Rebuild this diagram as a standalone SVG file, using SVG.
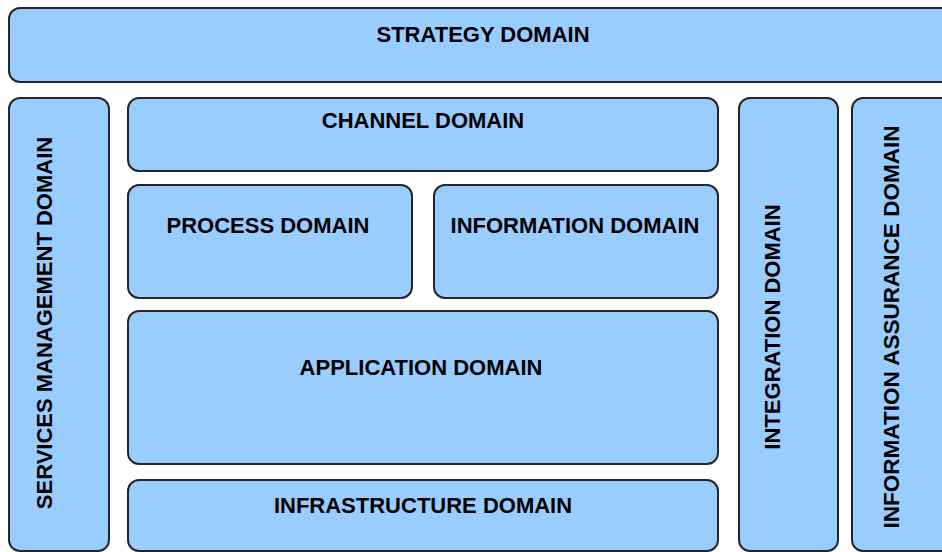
<svg xmlns="http://www.w3.org/2000/svg" width="942" height="552" viewBox="0 0 942 552">
<style>
.box{fill:#99CCFF;stroke:#262626;stroke-width:2}
.lbl{font-family:"Liberation Sans",Arial,sans-serif;font-weight:bold;font-size:22px;fill:#000;text-anchor:middle}
</style>
<rect width="942" height="552" fill="#ffffff"/>
<g id="strategy"><rect class="box" x="9" y="8" width="950" height="74" rx="11"/><text class="lbl" x="483" y="42">STRATEGY DOMAIN</text></g>
<g id="services"><rect class="box" x="9" y="98" width="100" height="453" rx="11"/><text class="lbl" transform="translate(52,323) rotate(-90)">SERVICES MANAGEMENT DOMAIN</text></g>
<g id="channel"><rect class="box" x="128" y="98" width="590" height="73" rx="11"/><text class="lbl" x="423" y="128">CHANNEL DOMAIN</text></g>
<g id="process"><rect class="box" x="128" y="185" width="284" height="113" rx="11"/><text class="lbl" x="268" y="233">PROCESS DOMAIN</text></g>
<g id="information"><rect class="box" x="434" y="185" width="284" height="113" rx="11"/><text class="lbl" x="575" y="233">INFORMATION DOMAIN</text></g>
<g id="application"><rect class="box" x="128" y="311" width="590" height="153" rx="11"/><text class="lbl" x="421" y="375">APPLICATION DOMAIN</text></g>
<g id="infrastructure"><rect class="box" x="128" y="480" width="590" height="71" rx="11"/><text class="lbl" x="423" y="513">INFRASTRUCTURE DOMAIN</text></g>
<g id="integration"><rect class="box" x="739" y="98" width="99" height="453" rx="11"/><text class="lbl" transform="translate(780,327) rotate(-90)">INTEGRATION DOMAIN</text></g>
<g id="assurance"><rect class="box" x="852" y="98" width="110" height="453" rx="11"/><text class="lbl" transform="translate(899,327) rotate(-90)" textLength="403" lengthAdjust="spacingAndGlyphs">INFORMATION ASSURANCE DOMAIN</text></g>
<g id="connectors"></g>
</svg>
